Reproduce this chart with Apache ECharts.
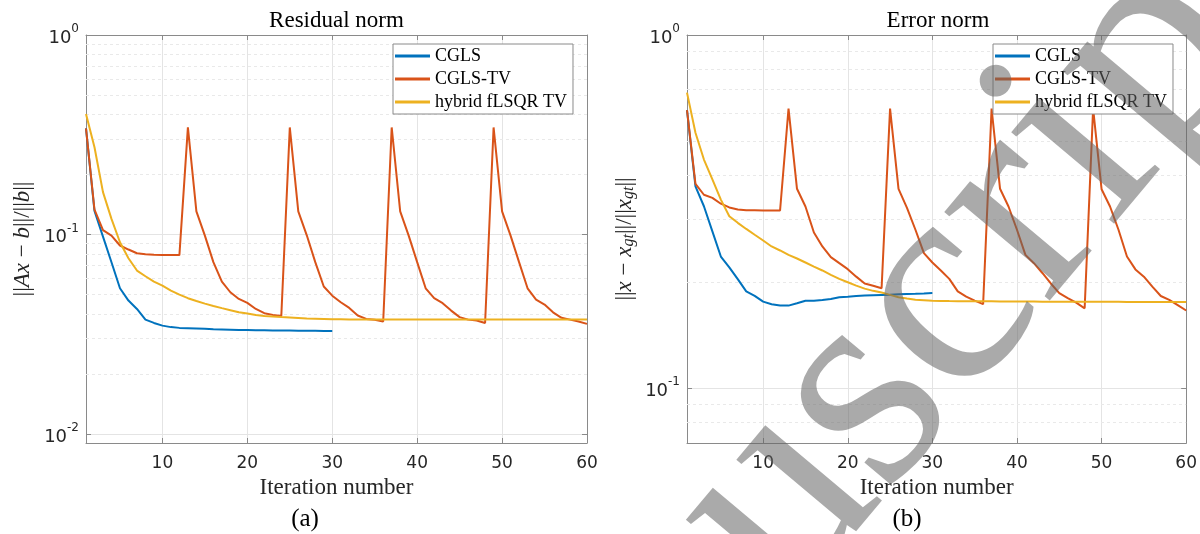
<!DOCTYPE html>
<html>
<head>
<meta charset="utf-8">
<script src="https://cdn.jsdelivr.net/npm/echarts@6/dist/echarts.min.js"></script>
<style>
  html, body { margin: 0; padding: 0; background: #fff; }
  #chart { width: 1200px; height: 534px; }
</style>
</head>
<body>
<div id="chart"></div>
<script>
// residual norm ||Ax-b||/||b||, one value per iteration starting at 1
const residCgls = [0.34, 0.131, 0.0975, 0.0725, 0.0537, 0.0466, 0.0423, 0.0374, 0.036, 0.0349,
  0.0343, 0.034, 0.0339, 0.0338, 0.0337, 0.0335, 0.0334, 0.0333, 0.0332, 0.0332,
  0.0331, 0.0331, 0.033, 0.033, 0.033, 0.0329, 0.0329, 0.0329, 0.0328, 0.0328]
const residCglsTv = [0.34, 0.133, 0.105, 0.0987, 0.088, 0.084, 0.0805, 0.0796, 0.079, 0.0789, 0.0788, 0.0788,
  0.344, 0.1306, 0.0986, 0.0726, 0.058, 0.0513, 0.0475, 0.0454, 0.0423, 0.0403, 0.0395, 0.039,
  0.344, 0.1306, 0.099, 0.0726, 0.0548, 0.0493, 0.0457, 0.0428, 0.0392, 0.0377, 0.0373, 0.0366,
  0.344, 0.1306, 0.0986, 0.0726, 0.0537, 0.0479, 0.0452, 0.0415, 0.0385, 0.0374, 0.037, 0.036,
  0.344, 0.1306, 0.0986, 0.0726, 0.0537, 0.0471, 0.0445, 0.0407, 0.0382, 0.0374, 0.0366, 0.0356]
const residHybrid = [0.402, 0.2735, 0.163, 0.1197, 0.0914, 0.076, 0.0659, 0.0617, 0.058, 0.0554,
  0.0523, 0.0499, 0.0479, 0.0464, 0.045, 0.0438, 0.0427, 0.0417, 0.0407, 0.0401,
  0.0395, 0.039, 0.0388, 0.0385, 0.0383, 0.0381, 0.0379, 0.0378, 0.0377, 0.0376,
  0.0376, 0.0375, 0.0375, 0.0375, 0.0375, 0.0375, 0.0375, 0.0375, 0.0375, 0.0375,
  0.0375, 0.0375, 0.0375, 0.0375, 0.0375, 0.0374, 0.0374, 0.0374, 0.0374, 0.0374,
  0.0374, 0.0374, 0.0374, 0.0374, 0.0374, 0.0374, 0.0374, 0.0374, 0.0374, 0.0374]

// error norm ||x-x_gt||/||x_gt||
const errCgls = [0.613, 0.373, 0.3275, 0.278, 0.236, 0.22, 0.2036, 0.188, 0.1826, 0.1759,
  0.173, 0.1714, 0.1714, 0.174, 0.177, 0.177, 0.1778, 0.179, 0.181, 0.1817,
  0.1825, 0.183, 0.1835, 0.1838, 0.184, 0.1845, 0.185, 0.1852, 0.1855, 0.186]
const errCglsTv = [0.613, 0.379, 0.353, 0.346, 0.333, 0.325, 0.3205, 0.319, 0.319, 0.3188, 0.3186, 0.3185,
  0.619, 0.367, 0.327, 0.276, 0.252, 0.235, 0.226, 0.2174, 0.207, 0.198, 0.195, 0.192,
  0.619, 0.367, 0.324, 0.281, 0.2413, 0.227, 0.2155, 0.204, 0.188, 0.1817, 0.177, 0.173,
  0.619, 0.367, 0.327, 0.281, 0.2386, 0.226, 0.212, 0.198, 0.186, 0.18, 0.1747, 0.1684,
  0.619, 0.366, 0.327, 0.281, 0.236, 0.217, 0.207, 0.194, 0.1825, 0.178, 0.172, 0.166]
const errHybrid = [0.687, 0.529, 0.444, 0.39, 0.342, 0.307, 0.294, 0.2825, 0.272, 0.262,
  0.252, 0.2455, 0.2386, 0.233, 0.227, 0.221, 0.2155, 0.2095, 0.204, 0.1996,
  0.1953, 0.1915, 0.1887, 0.1866, 0.1838, 0.181, 0.1794, 0.178, 0.1775, 0.177,
  0.1767, 0.1765, 0.1764, 0.1763, 0.1763, 0.1762, 0.1762, 0.1761, 0.1761, 0.176,
  0.176, 0.176, 0.1759, 0.1759, 0.1759, 0.1758, 0.1758, 0.1758, 0.1757, 0.1757,
  0.1757, 0.1757, 0.1756, 0.1756, 0.1756, 0.1756, 0.1755, 0.1755, 0.1755, 0.1755]

const seriesNames = ['CGLS', 'CGLS-TV', 'hybrid fLSQR TV']
const lineColors = ['#0072BD', '#D95319', '#EDB120']
// minor log grid lines (MATLAB style)
const residMinor = [0.02, 0.03, 0.04, 0.05, 0.06, 0.07, 0.08, 0.09, 0.2, 0.3, 0.4, 0.5, 0.6, 0.7, 0.8, 0.9]
const errMinor = [0.08, 0.09, 0.2, 0.3, 0.4, 0.5, 0.6, 0.7, 0.8, 0.9]

const serif = '"Liberation Serif", "Times New Roman", serif'
const sans = '"DejaVu Sans", sans-serif'
const axisColor = '#8a8a8a'
const txtColor = '#262626'

const chart = echarts.init(document.getElementById('chart'), null, { renderer: 'canvas' })

const pts = arr => arr.map((v, k) => [k + 1, v])

const bottomX = gi => ({
  type: 'value', gridIndex: gi, min: 1, max: 60, position: 'bottom',
  axisLine: { show: true, onZero: false, lineStyle: { color: axisColor } },
  axisTick: { show: true, inside: true, length: 5, lineStyle: { color: axisColor } },
  axisLabel: {
    color: txtColor, fontFamily: sans, fontSize: 17, margin: 12,
    formatter: v => (v % 10 === 0 ? String(v) : '')
  },
  splitLine: { show: true, lineStyle: { color: '#e4e4e4' } },
  name: 'Iteration number', nameLocation: 'middle', nameGap: 30,
  nameTextStyle: { fontFamily: serif, fontSize: 23, color: txtColor }
})

const topX = gi => ({
  type: 'value', gridIndex: gi, min: 1, max: 60, position: 'top',
  axisLine: { show: true, onZero: false, lineStyle: { color: axisColor } },
  axisTick: { show: true, inside: true, length: 5, lineStyle: { color: axisColor } },
  axisLabel: { show: false }, splitLine: { show: false }
})

const supLabel = v => {
  const lg = Math.log10(v)
  const e = Math.round(lg)
  if (Math.abs(lg - e) > 1e-6) return ''
  return '{b|10}{s|' + e + '}'
}

const leftY = (gi, min, name, gap) => ({
  type: 'log', gridIndex: gi, min: min, max: 1, position: 'left',
  axisLine: { show: true, lineStyle: { color: axisColor } },
  axisTick: { show: true, inside: true, length: 5, lineStyle: { color: axisColor } },
  axisLabel: {
    margin: 7, formatter: supLabel,
    rich: {
      b: { fontFamily: sans, fontSize: 18, color: txtColor, verticalAlign: 'bottom', lineHeight: 24 },
      s: { fontFamily: sans, fontSize: 12, color: txtColor, verticalAlign: 'top', lineHeight: 24 }
    }
  },
  splitLine: { show: true, lineStyle: { color: '#e4e4e4' } },
  name: name, nameLocation: 'middle', nameRotate: 90, nameGap: gap,
  nameTextStyle: {
    rich: {
      n: { fontFamily: serif, fontSize: 23, color: txtColor },
      it: { fontFamily: serif, fontSize: 23, fontStyle: 'italic', color: txtColor },
      sub: { fontFamily: serif, fontSize: 16, fontStyle: 'italic', color: txtColor, verticalAlign: 'bottom', padding: [9, 0, 0, 0] }
    }
  }
})

const rightY = (gi, min) => ({
  type: 'log', gridIndex: gi, min: min, max: 1, position: 'right',
  axisLine: { show: true, lineStyle: { color: axisColor } },
  axisTick: { show: true, inside: true, length: 5, lineStyle: { color: axisColor } },
  axisLabel: { show: false }, splitLine: { show: false }
})

const minorGrid = (xi, yi, vals) => ({
  type: 'line', xAxisIndex: xi, yAxisIndex: yi, data: [], silent: true, z: 1,
  markLine: {
    silent: true, z: 1, symbol: ['none', 'none'], label: { show: false }, animation: false,
    lineStyle: { color: '#e9e9e9', type: [3, 3], width: 1 },
    data: vals.map(v => ({ yAxis: v }))
  }
})

const curve = (name, color, arr, xi, yi) => ({
  name: name, type: 'line', xAxisIndex: xi, yAxisIndex: yi, data: pts(arr),
  symbol: 'none', showSymbol: false, z: 3,
  lineStyle: { color: color, width: 2 }, itemStyle: { color: color }
})

const legendOf = left => ({
  data: seriesNames, left: left, top: 44, orient: 'vertical', z: 10,
  icon: 'rect', itemWidth: 35, itemHeight: 3, itemGap: 5,
  padding: [3, 6, 3, 2], borderColor: '#8a8a8a', borderWidth: 1, backgroundColor: '#fff',
  textStyle: { fontFamily: serif, fontSize: 18, color: '#000', lineHeight: 17.5 },
  selectedMode: false
})

// big diagonal "Accepted Manuscript" stamp over the figure
const stampAngle = 50 * Math.PI / 180

const option = {
  animation: false,
  backgroundColor: '#fff',
  grid: [
    { left: 86, top: 35, width: 501, height: 408, show: false },
    { left: 687, top: 35, width: 501, height: 408, show: false }
  ],
  xAxis: [bottomX(0), topX(0), bottomX(1), topX(1)],
  yAxis: [
    leftY(0, 0.009, '{n|||}{it|Ax}{n| − }{it|b}{n|||/||}{it|b}{n|||}', 52),
    rightY(0, 0.009),
    leftY(1, 0.07, '{n|||}{it|x}{n| − }{it|x}{sub|gt}{n|||/||}{it|x}{sub|gt}{n|||}', 50),
    rightY(1, 0.07)
  ],
  legend: [legendOf(393), legendOf(993)],
  series: [
    minorGrid(0, 0, residMinor),
    minorGrid(2, 2, errMinor),
    curve(seriesNames[0], lineColors[0], residCgls, 0, 0),
    curve(seriesNames[1], lineColors[1], residCglsTv, 0, 0),
    curve(seriesNames[2], lineColors[2], residHybrid, 0, 0),
    curve(seriesNames[0], lineColors[0], errCgls, 2, 2),
    curve(seriesNames[1], lineColors[1], errCglsTv, 2, 2),
    curve(seriesNames[2], lineColors[2], errHybrid, 2, 2)
  ],
  graphic: [
    { type: 'text', x: 336.5, y: 21, style: { text: 'Residual norm', fontFamily: serif, fontSize: 23, fill: '#000', align: 'center', verticalAlign: 'middle' } },
    { type: 'text', x: 938, y: 21, style: { text: 'Error norm', fontFamily: serif, fontSize: 23, fill: '#000', align: 'center', verticalAlign: 'middle' } },
    { type: 'text', x: 305, y: 519, style: { text: '(a)', fontFamily: serif, fontSize: 25, fill: '#000', align: 'center', verticalAlign: 'middle' } },
    { type: 'text', x: 907, y: 519, style: { text: '(b)', fontFamily: serif, fontSize: 25, fill: '#000', align: 'center', verticalAlign: 'middle' } },
    {
      type: 'text', x: 375, y: 982, rotation: stampAngle, z: 100, silent: true,
      style: { text: 'Manuscript', fontFamily: serif, fontSize: 300, fill: 'rgba(100,100,100,0.55)', align: 'left', verticalAlign: 'middle' }
    }
  ]
}

chart.setOption(option)
</script>
</body>
</html>
